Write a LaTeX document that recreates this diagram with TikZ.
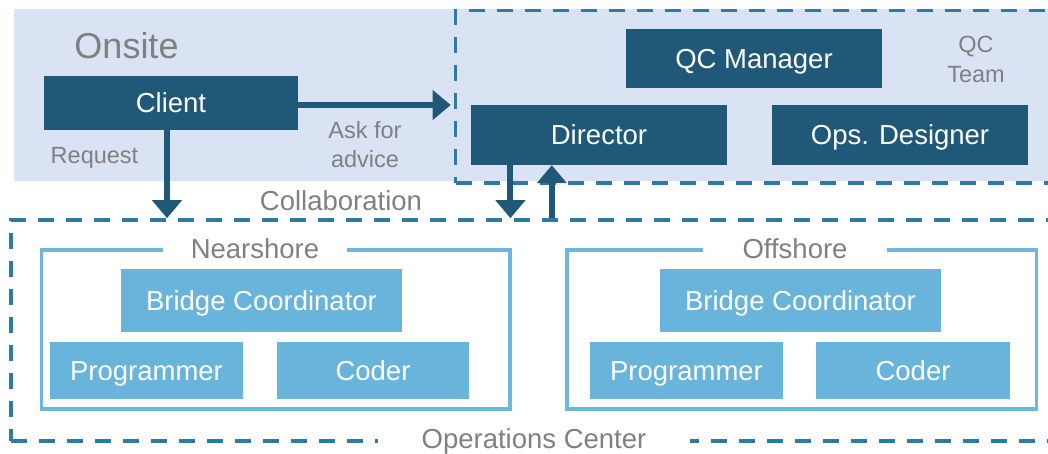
\documentclass[tikz,border=0pt]{standalone}
\usepackage{fontspec}
\setmainfont{Liberation Sans}
\usetikzlibrary{arrows.meta}
\definecolor{boxdark}{RGB}{31,89,119}
\definecolor{boxlight}{RGB}{104,180,219}
\definecolor{framedash}{RGB}{46,122,163}
\definecolor{sitefill}{RGB}{218,227,243}
\definecolor{labelgray}{RGB}{128,128,128}
\definecolor{teamframe}{RGB}{108,183,222}

\begin{document}
\begin{tikzpicture}[x=1pt,y=-1pt,
  boxfont/.style={font=\fontsize{27.5}{33}\selectfont, text height=19.7pt, text depth=0pt},
  darkbox/.style={boxfont, fill=boxdark, text=white, inner sep=0pt},
  lightbox/.style={boxfont, fill=boxlight, text=white, inner sep=0pt},
  dashframe/.style={draw=framedash, line width=3.6pt, dash pattern=on 16pt off 12pt, inner sep=0pt},
  teamframe/.style={draw=teamframe, line width=3.5pt, inner sep=0pt},
  biglabel/.style={boxfont, text=labelgray, inner sep=0pt},
  smalllabel/.style={font=\fontsize{23.5}{29.5}\selectfont, text=labelgray, inner sep=0pt, align=center},
  gaplabel/.style={biglabel, fill=white, inner ysep=2pt},
  flow/.style={draw=boxdark, line width=6pt, -{Triangle[width=29pt,length=18pt]}},
]
\useasboundingbox (0,0) rectangle (1048,454);
\clip (0,0) rectangle (1048,454);

% onsite area and the QC team frame
\node[fill=sitefill, inner sep=0pt, minimum width=1056pt, minimum height=172pt] (onsite) at (542,95) {};
\node[dashframe, minimum width=614.5pt, minimum height=172.5pt] (qc) at (762.75,96.75) {};
% operations center frame
\node[dashframe, minimum width=1059pt, minimum height=221pt] (ops) at (540.5,330.5) {};

% team frames
\node[teamframe, minimum width=468.5pt, minimum height=159pt] (near) at (275.75,329.5) {};
\node[teamframe, minimum width=469.5pt, minimum height=159pt] (off) at (801.75,329.5) {};

% onsite boxes
\node[darkbox, minimum width=254pt, minimum height=54pt] (client) at (171,103) {Client};
\node[darkbox, minimum width=256pt, minimum height=59pt] (qcm) at (754,58.5) {QC Manager};
\node[darkbox, minimum width=256pt, minimum height=60pt] (director) at (599,135) {Director};
\node[darkbox, minimum width=256pt, minimum height=60pt] (opsdes) at (900,135) {Ops. Designer};

% nearshore team
\node[lightbox, minimum width=281pt, minimum height=63pt] (bcnear) at (261.5,300.5) {Bridge Coordinator};
\node[lightbox, minimum width=193pt, minimum height=57pt] (prognear) at (146.5,370.5) {Programmer};
\node[lightbox, minimum width=192pt, minimum height=57pt] (codernear) at (373,370.5) {Coder};

% offshore team
\node[lightbox, minimum width=281pt, minimum height=63pt] (bcoff) at (800.5,300.5) {Bridge Coordinator};
\node[lightbox, minimum width=193pt, minimum height=57pt] (progoff) at (686.5,370.5) {Programmer};
\node[lightbox, minimum width=194pt, minimum height=57pt] (coderoff) at (913,370.5) {Coder};

% labels
\node[biglabel, font=\fontsize{36}{40}\selectfont, text height=25.8pt] (onsitelbl) at (126.5,45.3) {Onsite};
\node[smalllabel, text height=16.8pt, text depth=0pt] (reqlbl) at (94.5,154.7) {Request};
\node[smalllabel] (asklbl) at (365,144.4) {Ask for\\advice};
\node[smalllabel] (qclbl) at (976,59.3) {QC\\Team};
\node[biglabel] (collab) at (341,200.3) {Collaboration};
\node[gaplabel, inner xsep=28pt] (nearlbl) at (255,248.5) {Nearshore};
\node[gaplabel, inner xsep=40pt] (offlbl) at (795,249) {Offshore};
\node[gaplabel, inner xsep=44pt] (opslbl) at (534,439) {Operations Center};

% connectors
\draw[flow, shorten >=3pt] ([yshift=-2pt]client.east) -- ([yshift=-2pt]client.east -| qc.west);
\draw[flow] ([xshift=-4pt]client.south) -- ([xshift=-4pt]client.south |- ops.north);
\draw[flow] ([xshift=39.6pt]director.south west) -- ([xshift=39.6pt]director.south west |- ops.north);
\draw[flow] ([xshift=81pt]director.south west |- ops.north) -- ([xshift=81pt]director.south west);
\end{tikzpicture}
\end{document}
